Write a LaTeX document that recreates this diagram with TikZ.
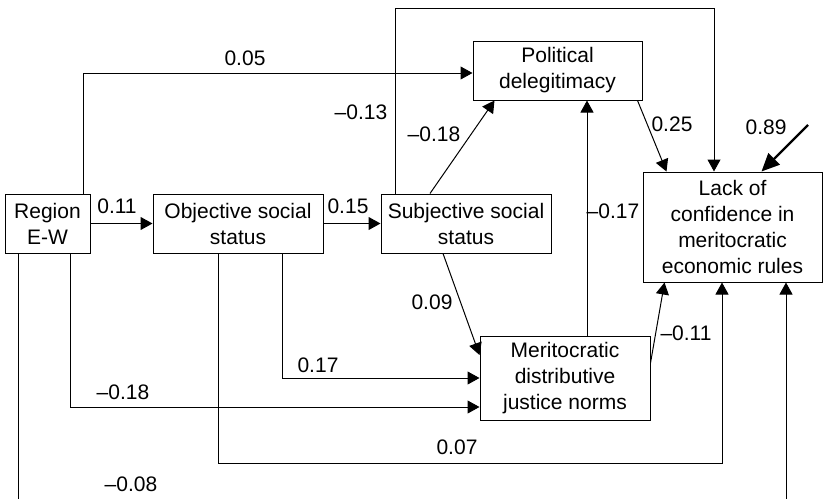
\documentclass[tikz,border=0pt]{standalone}
\usepackage{fontspec}
\setmainfont{Liberation Sans}
\usetikzlibrary{arrows.meta}
\begin{document}
\begin{tikzpicture}[x=0.5pt,y=-0.5pt,line width=0.5pt,
    font=\fontsize{10.5}{13}\selectfont,
    box/.style={draw,align=center,inner sep=0pt},
    arr/.style={-{Triangle[length=6pt,width=6.5pt]}},
    bigarr/.style={line width=1.2pt,-{Triangle[length=9pt,width=8pt]}}]
     \useasboundingbox (0,0) rectangle (824,498);
     \clip (0,0) rectangle (824,498);

     \node[box,minimum width=42.5pt,minimum height=29.5pt] (reg) at (47.5,223.5) {Region\\E-W};
     \node[box,minimum width=85pt,minimum height=29.5pt] (obj) at (238,223.5) {Objective social\\status};
     \node[box,minimum width=85pt,minimum height=29.5pt] (sub) at (466,223.5) {Subjective social\\status};
     \node[box,minimum width=84.5pt,minimum height=29.5pt] (pol) at (557.5,70.5) {Political\\delegitimacy};
     \node[box,minimum width=89.5pt,minimum height=55pt] (lack) at (732.5,227) {Lack of\\confidence in\\meritocratic\\economic rules};
     \node[box,minimum width=85pt,minimum height=42pt] (mer) at (565,378) {Meritocratic\\distributive\\justice norms};

     \draw[arr] (reg) -- (obj);
     \draw[arr] (obj) -- (sub);
     \draw[arr] ([xshift=-3.5pt]reg.north east) |- ([yshift=-1.25pt]pol.west);
     \draw[arr] ([xshift=7.5pt]sub.north west) -- ++(0,-185) -| ([xshift=-9.25pt]lack.north);
     \draw[arr] ([xshift=-18pt]sub.north) -- ([xshift=11pt]pol.south west);
     \draw[arr] ([xshift=-2.5pt]pol.south east) -- ([xshift=12pt]lack.north west);
     \coordinate (err) at (808,125);
     \draw[bigarr] (err) -- ([xshift=59.5pt]lack.north west);
     \draw[arr] ([xshift=11pt]mer.north) -- ([xshift=11pt]mer.north |- pol.south);
     \draw[arr] ([yshift=7.5pt]mer.east) -- ([xshift=11pt]lack.south west);
     \draw[arr] ([xshift=-11.5pt]sub.south) -- ([yshift=11.5pt]mer.west);
     \draw[arr] ([xshift=22pt]obj.south) |- (mer.west);
     \draw[arr] ([xshift=-10pt]reg.south east) |- ([yshift=-14.5pt]mer.west);
     \draw[arr] ([xshift=-10pt]obj.south) -- ++(0,210) -| ([xshift=-5.25pt]lack.south);
     \draw[arr] ([xshift=7pt]reg.south west) -- ++(0,260) -| ([xshift=26.75pt]lack.south);

     \node (l011) at (117,206) {0.11};
     \node (l015) at (348,206) {0.15};
     \node (l005) at (245,58) {0.05};
     \node (l013) at (361,112) {--0.13};
     \node (l018a) at (434,134) {--0.18};
     \node (l025) at (672,124.5) {0.25};
     \node (l089) at (766,127) {0.89};
     \node (l017a) at (613,211) {--0.17};
     \node (l011b) at (686,333) {--0.11};
     \node (l009) at (432,302) {0.09};
     \node (l017b) at (318,365) {0.17};
     \node (l018b) at (123,392) {--0.18};
     \node (l007) at (457,447) {0.07};
     \node (l008) at (131,484) {--0.08};
\end{tikzpicture}
\end{document}
